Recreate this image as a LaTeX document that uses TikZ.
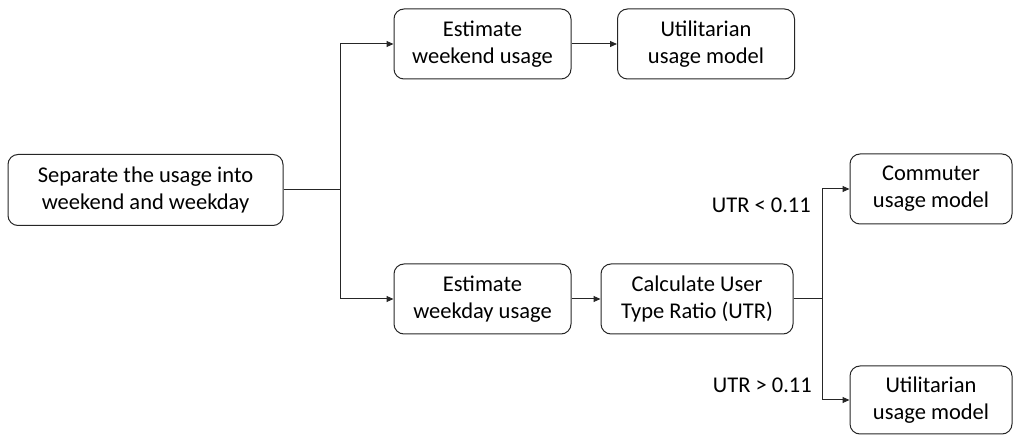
\documentclass[tikz,border=0pt]{standalone}
\usepackage{fontspec}
\setmainfont{Carlito}
\usetikzlibrary{arrows.meta}
\begin{document}
\begin{tikzpicture}[x=1pt,y=-1pt,
  box/.style={draw=black!85,line width=1pt,rounded corners=10pt,align=center,inner sep=0pt,
    font=\fontsize{22.5}{27}\selectfont},
  conn/.style={line width=1pt,draw=black!85},
  arr/.style={conn,-{Triangle[length=7pt,width=6pt]}},
  lbl/.style={font=\fontsize{22.5}{24}\selectfont,anchor=east,inner sep=0pt}]
\useasboundingbox (0,0) rectangle (1018,435);
\node[box,minimum width=275pt,minimum height=71pt] (sep) at (145.5,190) {Separate the usage into\\weekend and weekday};
\node[box,minimum width=177pt,minimum height=70pt] (wkend) at (482.5,44) {Estimate\\weekend usage};
\node[box,minimum width=177pt,minimum height=70pt] (util1) at (706,44) {Utilitarian\\usage model};
\node[box,minimum width=177pt,minimum height=70pt] (wkday) at (482.5,299) {Estimate\\weekday usage};
\node[box,minimum width=192pt,minimum height=70pt] (utr) at (697,299) {Calculate User\\Type Ratio (UTR)};
\node[box,minimum width=162pt,minimum height=70pt] (comm) at (931,189) {Commuter\\usage model};
\node[box,minimum width=162pt,minimum height=68pt] (util2) at (931,400) {Utilitarian\\usage model};
\coordinate (j1) at (340,190);
\coordinate (j2) at (822,299);
\draw[conn] (sep.east) -- (j1);
\draw[arr] (j1) |- (wkend.west);
\draw[arr] (j1) |- (wkday.west);
\draw[arr] (wkend.east) -- (util1.west);
\draw[arr] (wkday.east) -- (utr.west);
\draw[conn] (utr.east) -- (j2);
\draw[arr] (j2) |- (comm.west);
\draw[arr] (j2) |- (util2.west);
\node[lbl] (l1) at (811,205) {UTR < 0.11};
\node[lbl] (l2) at (812,385) {UTR > 0.11};
\end{tikzpicture}
\end{document}
